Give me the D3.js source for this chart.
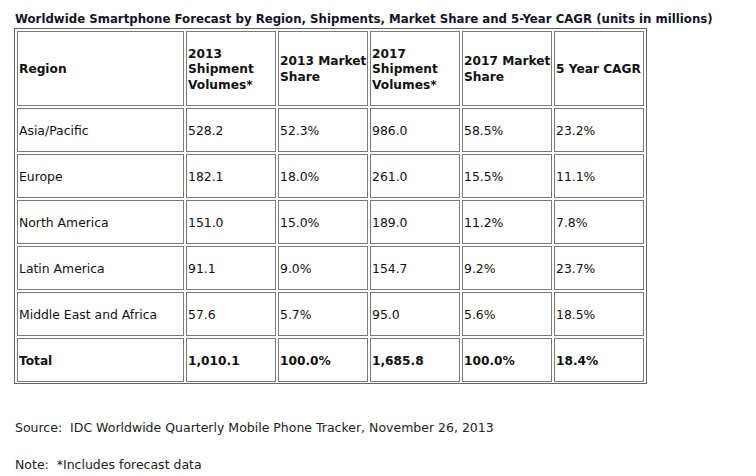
<!DOCTYPE html>
<html>
<head>
<meta charset="utf-8">
<script src="https://cdn.jsdelivr.net/npm/d3@7"></script>
<style>
  html, body { margin: 0; padding: 0; background: #fff; }
  svg text { font-family: Verdana, "DejaVu Sans", sans-serif; fill: #111; white-space: pre; }
</style>
</head>
<body>
<svg id="chart" width="756" height="476"></svg>
<script>
const title = "Worldwide Smartphone Forecast by Region, Shipments, Market Share and 5-Year CAGR (units in millions)";
const headers = [
  ["Region"],
  ["2013", "Shipment", "Volumes*"],
  ["2013 Market", "Share"],
  ["2017", "Shipment", "Volumes*"],
  ["2017 Market", "Share"],
  ["5 Year CAGR"]
];
const regions = ["Asia/Pacific", "Europe", "North America", "Latin America", "Middle East and Africa"];
const ship2013 = ["528.2", "182.1", "151.0", "91.1", "57.6"];
const share2013 = ["52.3%", "18.0%", "15.0%", "9.0%", "5.7%"];
const ship2017 = ["986.0", "261.0", "189.0", "154.7", "95.0"];
const share2017 = ["58.5%", "15.5%", "11.2%", "9.2%", "5.6%"];
const cagr = ["23.2%", "11.1%", "7.8%", "23.7%", "18.5%"];
const totalRow = ["Total", "1,010.1", "100.0%", "1,685.8", "100.0%", "18.4%"];
const sourceText = "Source:  IDC Worldwide Quarterly Mobile Phone Tracker, November 26, 2013";
const noteText = "Note:  *Includes forecast data";

const svg = d3.select("#chart");
const colKeys = d3.range(6);
const colX = d3.scaleOrdinal().domain(colKeys).range([17, 186, 278, 370, 462, 554]);
const colW = d3.scaleOrdinal().domain(colKeys).range([167, 90, 90, 90, 90, 90]);
const rowY = d3.scaleLinear().domain([0, 6]).range([108, 384]);
const rowH = 44;
const headTop = 31, headH = 75;
const bodySize = 12.4, headSize = 12.2;

const rows = regions.map((r, i) => ({cells: [r, ship2013[i], share2013[i], ship2017[i], share2017[i], cagr[i]], bold: false}));
rows.push({cells: totalRow, bold: true});

// title
svg.append("text").attr("x", 15).attr("y", 23)
  .attr("font-size", 11.75).attr("font-weight", "bold").style("fill", "#141428")
  .text(title);

// outer table border
svg.append("rect").attr("x", 14.5).attr("y", 28.5).attr("width", 632).attr("height", 355)
  .attr("fill", "none").attr("stroke", "#666");

// header cells
const hg = svg.append("g");
colKeys.forEach(c => {
  hg.append("rect").attr("x", colX(c) + 0.5).attr("y", headTop + 0.5)
    .attr("width", colW(c) - 1).attr("height", headH - 1)
    .attr("fill", "#fff").attr("stroke", "#7a7a7a");
  const lines = headers[c];
  const lh = 15.5;
  const cy = headTop + headH / 2;
  lines.forEach((l, k) => {
    hg.append("text").attr("x", colX(c) + 2)
      .attr("y", cy + (k - (lines.length - 1) / 2) * lh + 4.5)
      .attr("font-size", headSize).attr("font-weight", "bold")
      .text(l);
  });
});

// body cells
const rg = svg.selectAll("g.row").data(rows).join("g").attr("class", "row")
  .attr("transform", (d, i) => `translate(0,${rowY(i)})`);
rg.selectAll("rect").data(d => d.cells.map((v, c) => ({v, c}))).join("rect")
  .attr("x", d => colX(d.c) + 0.5).attr("y", 0.5)
  .attr("width", d => colW(d.c) - 1).attr("height", rowH - 1)
  .attr("fill", "#fff").attr("stroke", "#7a7a7a");
rg.each(function(row) {
  d3.select(this).selectAll("text").data(row.cells.map((v, c) => ({v, c}))).join("text")
    .attr("x", d => colX(d.c) + 2).attr("y", rowH / 2 + 4.5)
    .attr("font-size", row.bold ? headSize : bodySize).attr("font-weight", row.bold ? "bold" : "normal")
    .text(d => d.v);
});

// footnotes
svg.append("text").attr("x", 15).attr("y", 432).attr("font-size", 12.5).style("fill", "#222").text(sourceText);
svg.append("text").attr("x", 15).attr("y", 469).attr("font-size", 12.5).style("fill", "#222").text(noteText);
</script>
</body>
</html>
